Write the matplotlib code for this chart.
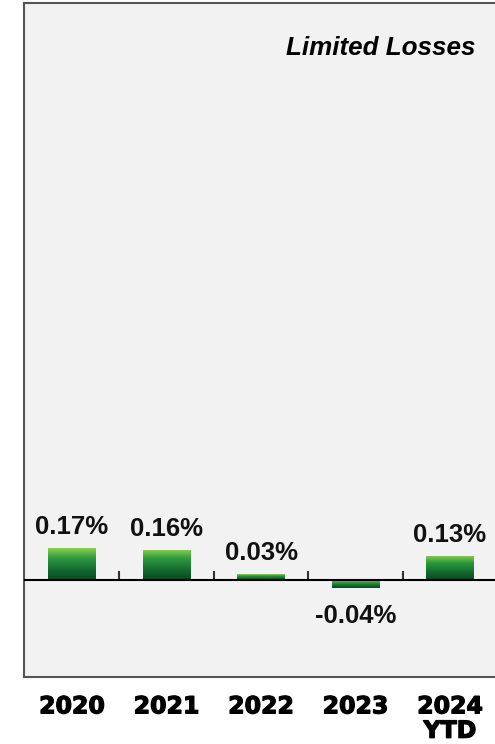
import matplotlib
matplotlib.use('Agg')
import matplotlib.pyplot as plt
import matplotlib.patheffects as pe
import numpy as np
from matplotlib.colors import LinearSegmentedColormap

years = ['2020', '2021', '2022', '2023', '2024\nYTD']
values = [0.17, 0.16, 0.03, -0.04, 0.13]
value_labels = ['0.17%', '0.16%', '0.03%', '-0.04%', '0.13%']
title = 'Limited Losses'

fig = plt.figure(figsize=(4.95, 7.44), dpi=100)
ax = fig.add_axes([24/495, 1-677/744, 471/495, 674/744])
ax.set_facecolor('#f2f2f2')

x = np.arange(len(years))
bars = ax.bar(x, values, width=0.5, color='none', edgecolor='none', zorder=2)

cmap = LinearSegmentedColormap.from_list(
    'g', [(0, '#8fd14f'), (0.3, '#2e9b3f'), (0.7, '#13682f'), (1, '#0a4621')])
grad = np.linspace(0, 1, 256).reshape(-1, 1)
for b in bars:
    x0, w, y0, h = b.get_x(), b.get_width(), b.get_y(), b.get_height()
    top, bot = max(y0, y0 + h), min(y0, y0 + h)
    im = ax.imshow(grad, extent=(x0, x0 + w, bot, top), origin='upper',
                   aspect='auto', cmap=cmap, zorder=2, interpolation='bilinear')
    im.set_clip_path(b)

ax.vlines(x[:-1] + 0.5, 0, 0.048, colors='#333333', lw=1.5, zorder=3)
ax.axhline(0, color='black', lw=1.5, zorder=4)

for xi, v, lab in zip(x, values, value_labels):
    off = 10 if v >= 0 else -25.2
    ax.annotate(lab, (xi, v), xytext=(0, off), textcoords='offset points',
                ha='center', va='baseline', fontsize=18.5, fontweight='bold',
                family='Liberation Sans', color='#111111')

ax.set_xlim(-0.508, 4.476)
ax.set_ylim(-0.516, 3.069)
ax.set_xticks(x)
ax.set_xticklabels(years, fontfamily='DejaVu Sans', fontweight='bold',
                   fontsize=17, linespacing=1.02)
for t in ax.get_xticklabels():
    t.set_path_effects([pe.withStroke(linewidth=0.9, foreground='black')])
ax.tick_params(axis='x', length=0, pad=12.5)
ax.set_yticks([])

for s in ['left', 'top', 'bottom']:
    ax.spines[s].set_color('#555555')
    ax.spines[s].set_linewidth(1.5)
ax.spines['right'].set_visible(False)

fig.text(475/495, 1-55/744, title, ha='right', va='baseline', fontsize=18.7,
         fontweight='bold', fontstyle='italic', family='Liberation Sans')

fig.savefig('out.png', dpi=100)
